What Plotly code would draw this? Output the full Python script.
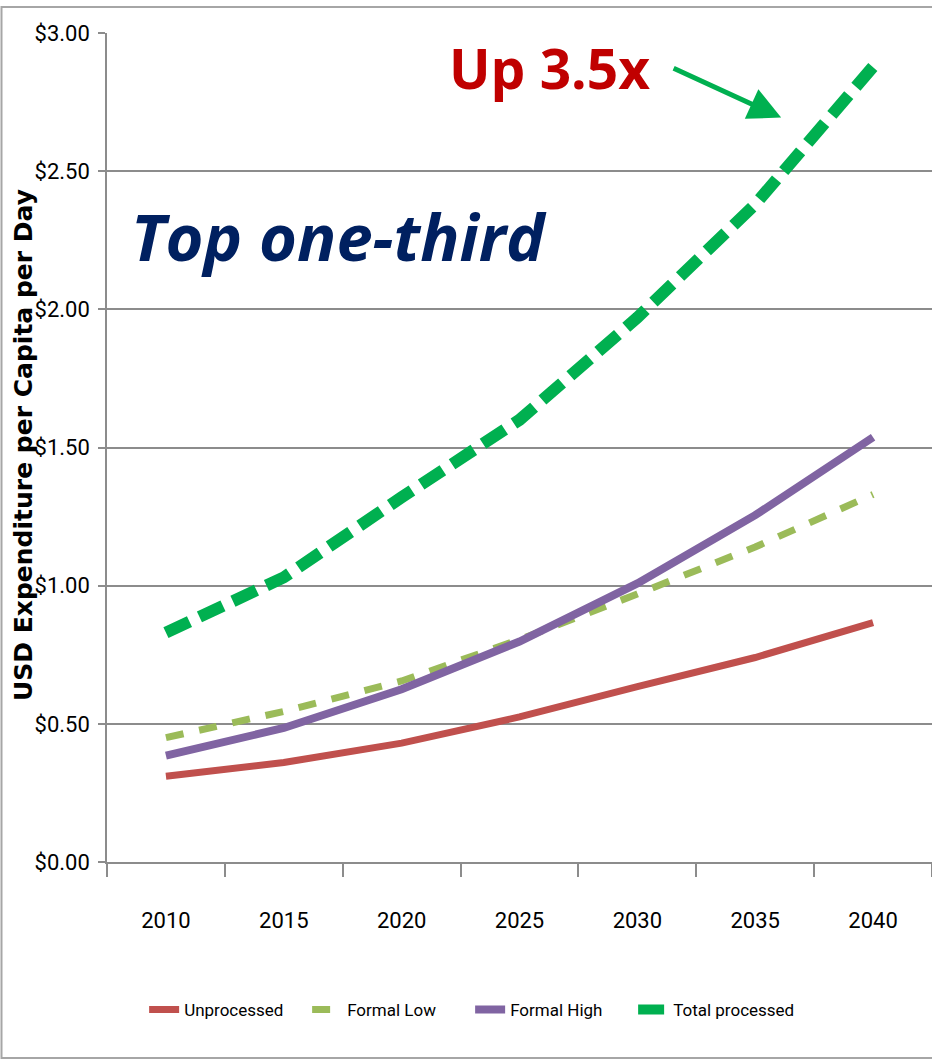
import plotly.graph_objects as go

years = [2010, 2015, 2020, 2025, 2030, 2035, 2040]
unprocessed = [0.31, 0.36, 0.43, 0.525, 0.635, 0.74, 0.866]
formal_low = [0.45, 0.545, 0.655, 0.805, 0.97, 1.14, 1.33]
formal_high = [0.385, 0.485, 0.625, 0.798, 1.008, 1.255, 1.537]
total_processed = [0.83, 1.03, 1.32, 1.60, 1.97, 2.38, 2.878]

y_ticks = [0, 0.5, 1.0, 1.5, 2.0, 2.5, 3.0]
cat_bounds = [2007.5, 2012.5, 2017.5, 2022.5, 2027.5, 2032.5, 2037.5, 2042.5]

NARROW = "Roboto, sans-serif"
GRID = "#8c8c8c"

fig = go.Figure()
fig.add_trace(go.Scatter(x=years, y=unprocessed, name="Unprocessed", mode="lines",
                         line=dict(color="#C0504D", width=7)))
fig.add_trace(go.Scatter(x=years, y=formal_low, name="Formal Low", mode="lines",
                         line=dict(color="#9BBB59", width=7, dash="18px,16px")))
fig.add_trace(go.Scatter(x=years, y=formal_high, name="Formal High", mode="lines",
                         line=dict(color="#8064A2", width=8)))
fig.add_trace(go.Scatter(x=years, y=total_processed, name="Total processed", mode="lines",
                         line=dict(color="#00B050", width=12, dash="26px,11px")))

# plot area in page coords: x 107..932, y 33..862 (body margin removed below)
fig.update_layout(
    width=932, height=1060,
    margin=dict(l=107, r=0, t=33, b=198, autoexpand=False),
    paper_bgcolor="white", plot_bgcolor="white",
    font=dict(family=NARROW, size=22, color="black"),
    showlegend=True,
    legend=dict(orientation="h", x=0.045, xanchor="left", y=-0.1785, yanchor="middle",
                font=dict(family=NARROW, size=17, color="black"),
                entrywidth=118, entrywidthmode="pixels", itemwidth=30,
                bgcolor="rgba(0,0,0,0)"),
    xaxis=dict(range=[2007.5, 2042.5], tickvals=years, ticktext=[str(y) for y in years],
               ticks="", showgrid=False, zeroline=False,
               showline=True, linecolor=GRID, linewidth=2,
               ticklabelstandoff=38,
               tickfont=dict(family=NARROW, size=22),
               minor=dict(tickvals=cat_bounds, ticks="outside", ticklen=13,
                          tickwidth=1.5, tickcolor=GRID, showgrid=False)),
    yaxis=dict(range=[0, 3], tickvals=y_ticks, tickformat="$.2f",
               showgrid=True, gridcolor=GRID, gridwidth=2,
               zeroline=False, showline=True, linecolor=GRID, linewidth=1.5,
               ticks="outside", ticklen=7, tickcolor=GRID, tickwidth=2,
               ticklabelstandoff=4,
               tickfont=dict(family=NARROW, size=22)),
)

fig.add_shape(type="rect", xref="paper", yref="paper",
              x0=(1.5 - 107) / 825, x1=1.02, y0=(862 - 1058) / 829, y1=(862 - 7) / 829,
              line=dict(color="#a6a6a6", width=2), fillcolor="rgba(0,0,0,0)", layer="below")

fig.add_annotation(xref="paper", yref="paper", x=(23 - 107) / 825, y=(862 - 445) / 829,
                   text="USD Expenditure per Capita per Day", showarrow=False, textangle=-90,
                   xanchor="center", yanchor="middle",
                   font=dict(family="DejaVu Sans", size=25, color="black", weight="bold"))

fig.add_annotation(xref="paper", yref="paper", x=(129 - 107) / 825, y=(862 - 236) / 829,
                   text="<b><i>Top one-third</i></b>", showarrow=False,
                   xanchor="left", yanchor="middle",
                   font=dict(family="Open Sans", size=65, color="#002060"))

fig.add_annotation(xref="paper", yref="paper", x=(447 - 107) / 825, y=(862 - 68) / 829,
                   text="<b>Up 3.5x</b>", showarrow=False,
                   xanchor="left", yanchor="middle",
                   font=dict(family="Open Sans", size=55, color="#C00000"))

fig.add_annotation(x=2036.1, y=2.694, xref="x", yref="y", text="",
                   showarrow=True, ax=-109, ay=-50, axref="pixel", ayref="pixel",
                   arrowhead=2, arrowsize=1.3, arrowwidth=5, arrowcolor="#00B050")

fig.write_html("out.html", config={"displayModeBar": False},
               post_script="document.body.style.margin='0px';document.body.style.overflow='hidden';")
